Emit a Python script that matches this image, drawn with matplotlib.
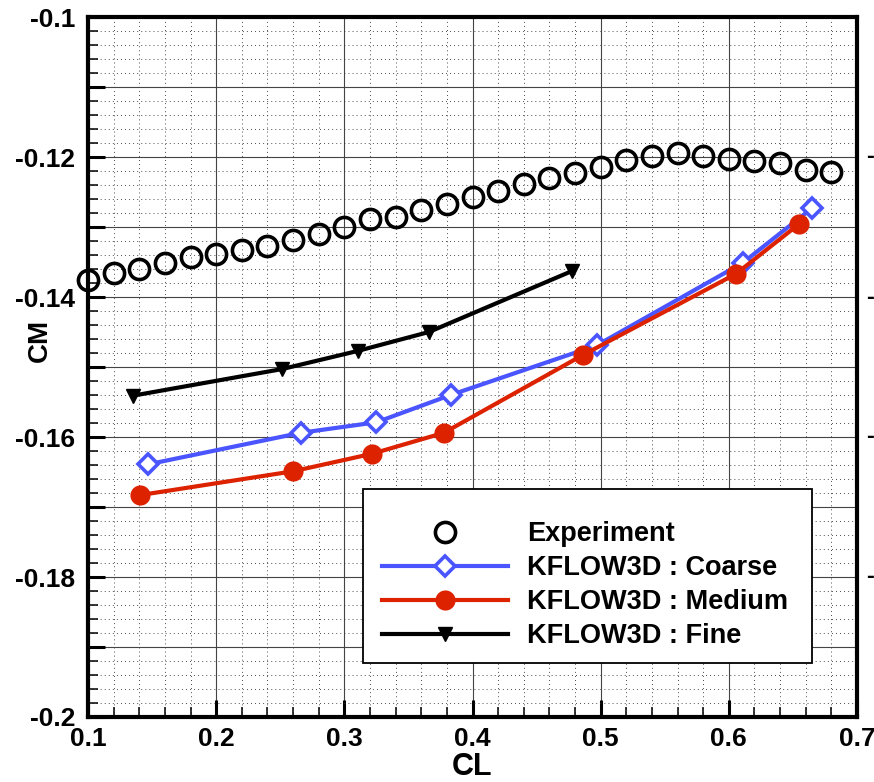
import matplotlib
matplotlib.use('Agg')
import matplotlib.pyplot as plt
from matplotlib.ticker import MultipleLocator, FuncFormatter
from matplotlib.patches import Rectangle
from matplotlib.lines import Line2D
import matplotlib.transforms as mtransforms

plt.rcParams['font.family'] = ['Liberation Sans', 'DejaVu Sans']
plt.rcParams['font.weight'] = 'bold'

# ---- data ----
exp_cl = [0.10, 0.12, 0.14, 0.16, 0.18, 0.20, 0.22, 0.24, 0.26, 0.28,
          0.30, 0.32, 0.34, 0.36, 0.38, 0.40, 0.42, 0.44, 0.46, 0.48,
          0.50, 0.52, 0.54, 0.56, 0.58, 0.60, 0.62, 0.64, 0.66, 0.68]
exp_cm = [-0.1376, -0.1366, -0.1360, -0.1351, -0.1343, -0.1339, -0.1333, -0.1327, -0.1319, -0.1310,
          -0.1300, -0.1289, -0.1286, -0.1276, -0.1267, -0.1257, -0.1249, -0.1239, -0.1230, -0.1223,
          -0.1214, -0.1204, -0.1199, -0.1194, -0.1199, -0.1203, -0.1206, -0.1209, -0.1219, -0.1221]

coarse_cl = [0.147, 0.266, 0.325, 0.383, 0.497, 0.611, 0.665]
coarse_cm = [-0.1639, -0.1594, -0.1579, -0.1540, -0.1469, -0.1351, -0.1273]

medium_cl = [0.1406, 0.260, 0.3215, 0.3777, 0.486, 0.6055, 0.6546]
medium_cm = [-0.1683, -0.1649, -0.1624, -0.1594, -0.1483, -0.1367, -0.1296]

fine_cl = [0.135, 0.2513, 0.3106, 0.366, 0.4775]
fine_cm = [-0.1541, -0.1503, -0.1477, -0.1450, -0.1363]

labels = ['Experiment', 'KFLOW3D : Coarse', 'KFLOW3D : Medium', 'KFLOW3D : Fine']
right_marks = [-0.12, -0.14, -0.16, -0.18]

BLUE = '#4a55ff'
RED = '#dd2200'

W, H = 874, 782
fig = plt.figure(figsize=(W / 100, H / 100), dpi=100)
L, R, T, B = 88, 857, 17, 717
ax = fig.add_axes([L / W, 1 - B / H, (R - L) / W, (B - T) / H])

ax.set_xlim(0.1, 0.7)
ax.set_ylim(-0.2, -0.1)

ax.xaxis.set_major_locator(MultipleLocator(0.1))
ax.xaxis.set_minor_locator(MultipleLocator(0.02))
ax.yaxis.set_major_locator(MultipleLocator(0.01))
ax.yaxis.set_minor_locator(MultipleLocator(0.002))

def yfmt(v, pos):
    k = int(round(v * 100))
    if k % 2 != 0:
        return ''
    return '%g' % (k / 100.0)

ax.yaxis.set_major_formatter(FuncFormatter(yfmt))
ax.xaxis.set_major_formatter(FuncFormatter(lambda v, p: '%g' % round(v, 2)))

ax.grid(which='major', color='#444444', linewidth=0.8, linestyle='-', zorder=0)
ax.grid(which='minor', color='#333333', linewidth=0.65, linestyle=(0, (1, 3.5)), zorder=0)
ax.set_axisbelow(True)

ax.tick_params(which='major', direction='in', length=12, width=2.2, labelsize=19,
               pad=9, top=False, right=False)
ax.tick_params(axis='x', which='major', pad=7.5)
ax.tick_params(which='minor', direction='in', length=7, width=1.1, top=False, right=False)
for lab in ax.get_xticklabels() + ax.get_yticklabels():
    lab.set_fontweight('bold')

for s in ax.spines.values():
    s.set_linewidth(3.0)
    s.set_zorder(10)

ax.plot(coarse_cl, coarse_cm, color=BLUE, lw=3.0, marker='D', ms=10.5,
        mfc='white', mec=BLUE, mew=2.6, zorder=3)
ax.plot(medium_cl, medium_cm, color=RED, lw=3.0, marker='o', ms=14.5,
        mfc=RED, mec=RED, mew=0, zorder=4)
ax.plot(fine_cl, fine_cm, color='black', lw=3.0, marker='v', ms=10.5,
        mfc='black', mec='black', zorder=4)
ax.plot(exp_cl, exp_cm, linestyle='none', marker='o', ms=14.5, mfc='none',
        mec='black', mew=2.6, zorder=5, clip_on=False)

ax.set_xlabel('CL', fontsize=22, fontweight='bold')
ax.xaxis.set_label_coords(0.5, (717 - 775) / 700)
ax.xaxis.label.set_va('baseline')
ax.set_ylabel('CM', fontsize=20, fontweight='bold')
ax.yaxis.set_label_coords((40 - 88) / 769, (717 - 340) / 700)
ax.yaxis.label.set_va('center')

# legend box
to_ax = lambda px, py: ((px - L) / (R - L), (B - py) / (B - T))
x0, y0 = to_ax(363, 663)
x1, y1 = to_ax(812, 489)
rect = Rectangle((x0, y0), x1 - x0, y1 - y0, transform=ax.transAxes,
                 facecolor='white', edgecolor='black', lw=1.3, zorder=6)
ax.add_patch(rect)

handles = [
    Line2D([], [], linestyle='none', marker='o', ms=14.5, mfc='none', mec='black', mew=2.6),
    Line2D([], [], color=BLUE, lw=3.0, marker='D', ms=10.5, mfc='white', mec=BLUE, mew=2.6),
    Line2D([], [], color=RED, lw=3.0, marker='o', ms=14.5, mfc=RED, mec=RED, mew=0),
    Line2D([], [], color='black', lw=3.0, marker='v', ms=10.5, mfc='black', mec='black'),
]
ax_l, ax_t = to_ax(382, 521)
leg = ax.legend(handles, labels, loc='upper left', bbox_to_anchor=(ax_l, ax_t),
                frameon=False, borderpad=0, borderaxespad=0, handlelength=4.65,
                handletextpad=0.72, labelspacing=0.30,
                prop={'size': 19.5, 'weight': 'bold'})
leg.set_zorder(7)

# edge of the mirrored labels visible at the right border
tr = mtransforms.blended_transform_factory(fig.transFigure, ax.transData)
for v in right_marks:
    fig.text(866 / W, v, '-', transform=tr, fontsize=17, fontweight='bold',
             va='center', ha='left')

fig.savefig('out.png', dpi=100)
